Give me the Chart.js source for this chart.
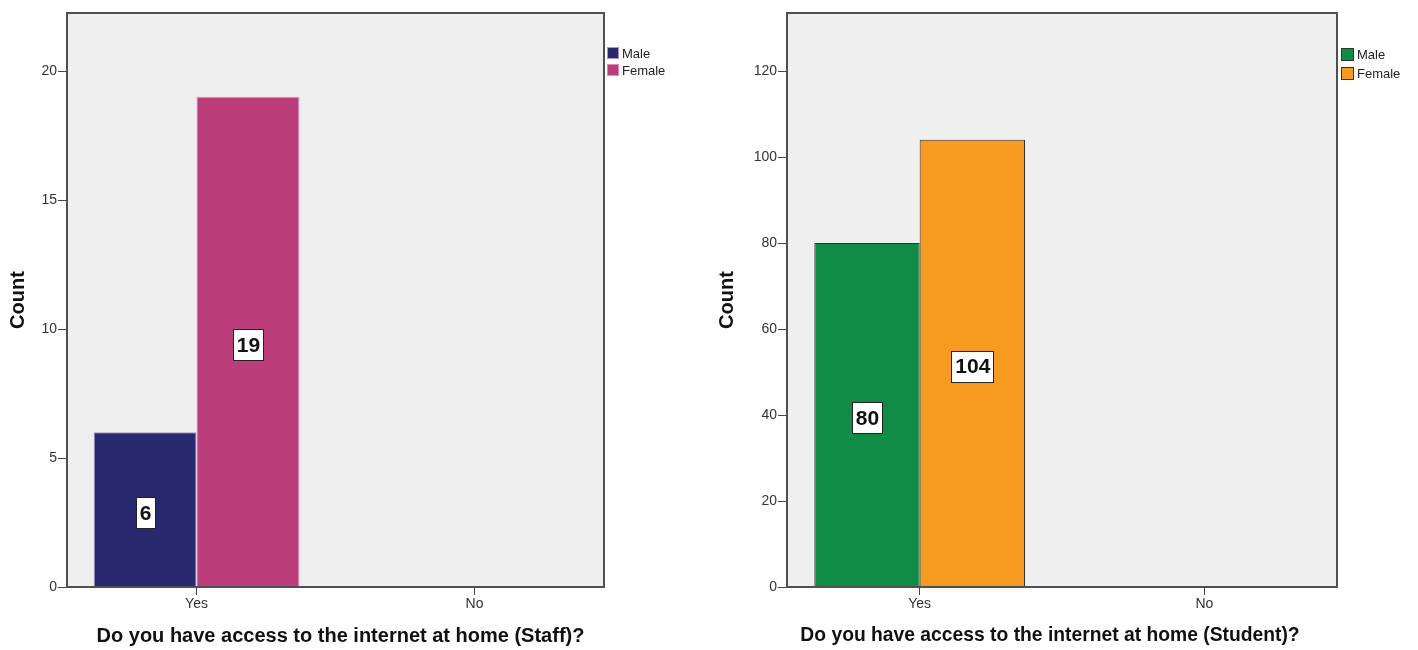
<!DOCTYPE html>
<html>
<head>
<meta charset="utf-8">
<script src="https://cdn.jsdelivr.net/npm/chart.js@4/dist/chart.umd.min.js"></script>
<style>
  body { margin: 0; background: #fff; }
  .wrap { position: absolute; top: 0; width: 709px; height: 650px; }
</style>
</head>
<body>
<div class="wrap" style="left:0"><canvas id="staffChart" width="709" height="650"></canvas></div>
<div class="wrap" style="left:709px"><canvas id="studentChart" width="709" height="650"></canvas></div>
<script>
// Ma'lumotlar
const categories = ['Yes', 'No'];
const seriesNames = ['Male', 'Female'];
const staffMale = [6, null];
const staffFemale = [19, null];
const studentMale = [80, null];
const studentFemale = [104, null];

const FONT = '"Liberation Sans", Arial, sans-serif';

// Fon, ramka, qiymat yorliqlari, legenda va X sarlavha
const spssPlugin = {
    id: 'spss',
    beforeDraw(chart) {
        const a = chart.chartArea;
        const c = chart.ctx;
        c.save();
        c.fillStyle = '#efefef';
        c.fillRect(a.left, a.top, a.right - a.left, a.bottom - a.top);
        c.restore();
    },
    afterDatasetsDraw(chart) {
        const c = chart.ctx;
        const a = chart.chartArea;
        const opt = chart.options.plugins.spss;
        c.save();
        c.strokeStyle = '#505050';
        c.lineWidth = 2;
        c.strokeRect(a.left, a.top, a.right - a.left, a.bottom - a.top);

        // qiymat yorliqlari (ustun o'rtasida)
        c.font = 'bold 21px ' + FONT;
        c.textAlign = 'center';
        c.textBaseline = 'middle';
        chart.data.datasets.forEach((ds, i) => {
            chart.getDatasetMeta(i).data.forEach((bar, j) => {
                const v = ds.data[j];
                if (v == null) return;
                const y = (bar.y + bar.base) / 2 + 3;
                const txt = String(v);
                const w = Math.round(c.measureText(txt).width + 7);
                const h = 31;
                const x0 = Math.round(bar.x - w / 2), y0 = Math.round(y - h / 2);
                c.fillStyle = '#fff';
                c.fillRect(x0, y0, w, h);
                c.strokeStyle = '#222';
                c.lineWidth = 1;
                c.strokeRect(x0 + 0.5, y0 + 0.5, w, h);
                c.fillStyle = '#111';
                c.fillText(txt, bar.x + 0.5, y + 1.5);
            });
        });

        // X o'qi sarlavhasi
        c.font = 'bold ' + opt.titleSize + 'px ' + FONT;
        c.fillStyle = '#111';
        c.fillText(opt.xTitle, (a.left + a.right) / 2 + opt.titleDx, 636);

        // legenda
        c.font = '13px ' + FONT;
        c.textAlign = 'left';
        chart.data.datasets.forEach((ds, i) => {
            const x = a.right + opt.dx;
            const y = opt.top + i * opt.gap;
            c.fillStyle = ds.backgroundColor;
            c.fillRect(x, y, opt.box, opt.box);
            c.strokeStyle = ds.borderColor;
            c.lineWidth = 1;
            c.strokeRect(x + 0.5, y + 0.5, opt.box - 1, opt.box - 1);
            c.fillStyle = '#222';
            c.fillText(ds.label, x + opt.box + 3, y + opt.box / 2 + 1);
        });
        c.restore();
    }
};

function makeChart(id, male, female, colors, yMax, step, left, right, extra) {
    return new Chart(document.getElementById(id), {
        type: 'bar',
        data: {
            labels: categories,
            datasets: [
                { label: seriesNames[0], data: male, backgroundColor: colors[0], borderColor: colors[1], borderWidth: 1 },
                { label: seriesNames[1], data: female, backgroundColor: colors[2], borderColor: colors[3], borderWidth: 1 }
            ]
        },
        options: {
            responsive: false,
            animation: false,
            layout: { padding: { top: 13, right: right, left: 0, bottom: 0 } },
            datasets: { bar: { categoryPercentage: 0.74, barPercentage: 1 } },
            plugins: {
                legend: { display: false },
                tooltip: { enabled: false },
                spss: extra
            },
            scales: {
                x: {
                    offset: true,
                    // SPSS toifalar orasidagi bo'shliq biroz kengroq
                    afterBuildTicks: s => { s._startValue = -0.466; s._valueRange = 1.932; },
                    afterFit: s => { s.height = 63; },
                    grid: { drawOnChartArea: false, tickLength: 8, tickColor: '#444', offset: false },
                    border: { display: false },
                    ticks: { color: '#333', font: { size: 14, family: FONT }, padding: 1 }
                },
                y: {
                    min: 0, max: yMax,
                    afterFit: s => { s.width = left; },
                    afterBuildTicks: s => { s.ticks = s.ticks.filter(t => t.value % step === 0); },
                    ticks: { stepSize: step, color: '#333', font: { size: 14, family: FONT }, padding: 1 },
                    grid: { drawOnChartArea: false, tickLength: 9, tickColor: '#444' },
                    border: { display: false },
                    title: {
                        display: true, text: 'Count', color: '#111',
                        font: { size: 20, weight: 'bold', family: FONT },
                        padding: { top: 6, bottom: 0 }
                    }
                }
            }
        },
        plugins: [spssPlugin]
    });
}

makeChart('staffChart', staffMale, staffFemale,
    ['#29296f', '#a994dc', '#bb3e7b', '#e58abd'],
    22.25, 5, 67, 709 - 604,
    { dx: 3, top: 47, gap: 17, box: 12,
      xTitle: 'Do you have access to the internet at home (Staff)?', titleSize: 20, titleDx: 5 });

makeChart('studentChart', studentMale, studentFemale,
    ['#118c47', '#333333', '#f79a20', '#333333'],
    133.5, 20, 78, 709 - 628,
    { dx: 4, top: 48, gap: 19, box: 13,
      xTitle: 'Do you have access to the internet at home (Student)?', titleSize: 19.3, titleDx: -12 });
</script>
</body>
</html>
